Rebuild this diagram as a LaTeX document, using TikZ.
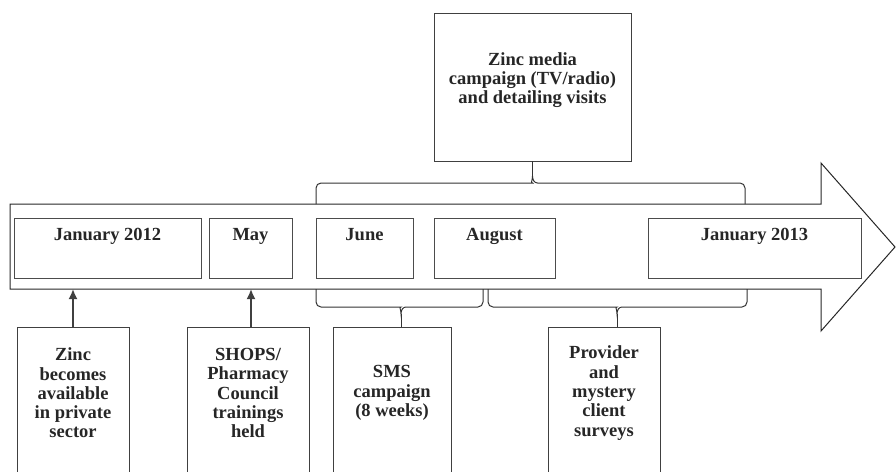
\documentclass[tikz,border=0pt]{standalone}
\usepackage{fontspec}
\setmainfont{Liberation Serif}
\usetikzlibrary{arrows.meta}

\tikzset{
	datebox/.style={draw=black!70, line width=0.8pt, minimum height=60pt, inner sep=0pt},
	eventbox/.style={draw=black!75, line width=0.8pt, minimum height=170pt, inner sep=0pt, anchor=north},
	boxtext/.style={align=center, font=\bfseries\fontsize{18.5}{19.3}\selectfont, text=black!85, inner sep=0pt},
	monthtext/.style={boxtext, anchor=base},
	bracket/.style={draw=black!80, line width=1pt},
	pointer/.style={draw=black!75, line width=1.8pt, -{Latex[length=10pt,width=9pt]}},
}

\begin{document}
\begin{tikzpicture}[x=1pt,y=-1pt]
	\useasboundingbox (0,0) rectangle (896,471);
	\clip (0,0) rectangle (896,471);

	% timeline arrow
	\draw[black!85, line width=1pt] (10,204) -- (821,204) -- (821,163) -- (895,247) -- (821,331) -- (821,289) -- (10,289) -- cycle;
	\coordinate (shaftbot) at (10,289);

	% months on the timeline
	\node[datebox, minimum width=187pt] (jan12) at (107.5,248) {};
	\node[datebox, minimum width=83pt] (may) at (250.5,248) {};
	\node[datebox, minimum width=97pt] (june) at (364.5,248) {};
	\node[datebox, minimum width=121pt] (aug) at (494.5,248) {};
	\node[datebox, minimum width=213pt] (jan13) at (754.5,248) {};

	\node[monthtext] (jan12t) at ([yshift=-23pt]jan12.north) {January 2012};
	\node[monthtext] (mayt) at ([yshift=-23pt]may.north) {May};
	\node[monthtext] (junet) at ([yshift=-23pt]june.north) {June};
	\node[monthtext] (augt) at ([yshift=-23pt]aug.north) {August};
	\node[monthtext] (jan13t) at ([yshift=-23pt]jan13.north) {January 2013};

	% box above
	\node[draw=black!75, line width=0.8pt, minimum width=197pt, minimum height=148pt] (media) at (532.5,87) {};
	\node[boxtext] (mediat) at (532.5,80) {Zinc media\\campaign (TV/radio)\\and detailing visits};

	% boxes below
	\node[eventbox, minimum width=112pt] (avail) at (73,327) {};
	\node[boxtext] (availt) at (73,393) {Zinc\\becomes\\available\\in private\\sector};
	\node[eventbox, minimum width=122pt] (train) at (248,327) {};
	\node[boxtext] (traint) at (248,393) {SHOPS/\\Pharmacy\\Council\\trainings\\held};
	\node[eventbox, minimum width=118pt] (sms) at (392,327) {};
	\node[boxtext] (smst) at (392,393) {SMS\\campaign\\(8 weeks)};
	\node[eventbox, minimum width=112pt] (survey) at (604,327) {};
	\node[boxtext] (surveyt) at (604,393) {Provider\\and\\mystery\\client\\surveys};

	% arrows up to the timeline
	\draw[pointer] (avail.north) -- (avail.north |- shaftbot);
	\draw[pointer] ([xshift=3pt]train.north) -- ([xshift=3pt]train.north |- shaftbot);

	% braces
	\coordinate (mediatip) at (532.5,176);
	\draw[bracket] (316,204) [rounded corners=5pt] -- (316,183) -- (527.5,183) [sharp corners] .. controls (530.5,183) and (532.5,180) .. (mediatip) .. controls (532.5,180) and (534.5,183) .. (537.5,183) [rounded corners=5pt] -- (745,183) -- (745,204);
	\draw[bracket] (media.south) -- (mediatip);

	\coordinate (smstip) at (401,314);
	\draw[bracket] (316,289) [rounded corners=5pt] -- (316,307) -- (396,307) [sharp corners] .. controls (399,307) and (401,310) .. (smstip) .. controls (401,310) and (403,307) .. (406,307) [rounded corners=5pt] -- (483,307) -- (483,289);
	\draw[bracket] (smstip) -- (smstip |- sms.north);

	\coordinate (surveytip) at (617,314);
	\draw[bracket] (488,289) [rounded corners=5pt] -- (488,307) -- (612,307) [sharp corners] .. controls (615,307) and (617,310) .. (surveytip) .. controls (617,310) and (619,307) .. (622,307) [rounded corners=5pt] -- (747,307) -- (747,289);
	\draw[bracket] (surveytip) -- (surveytip |- survey.north);

\end{tikzpicture}
\end{document}
